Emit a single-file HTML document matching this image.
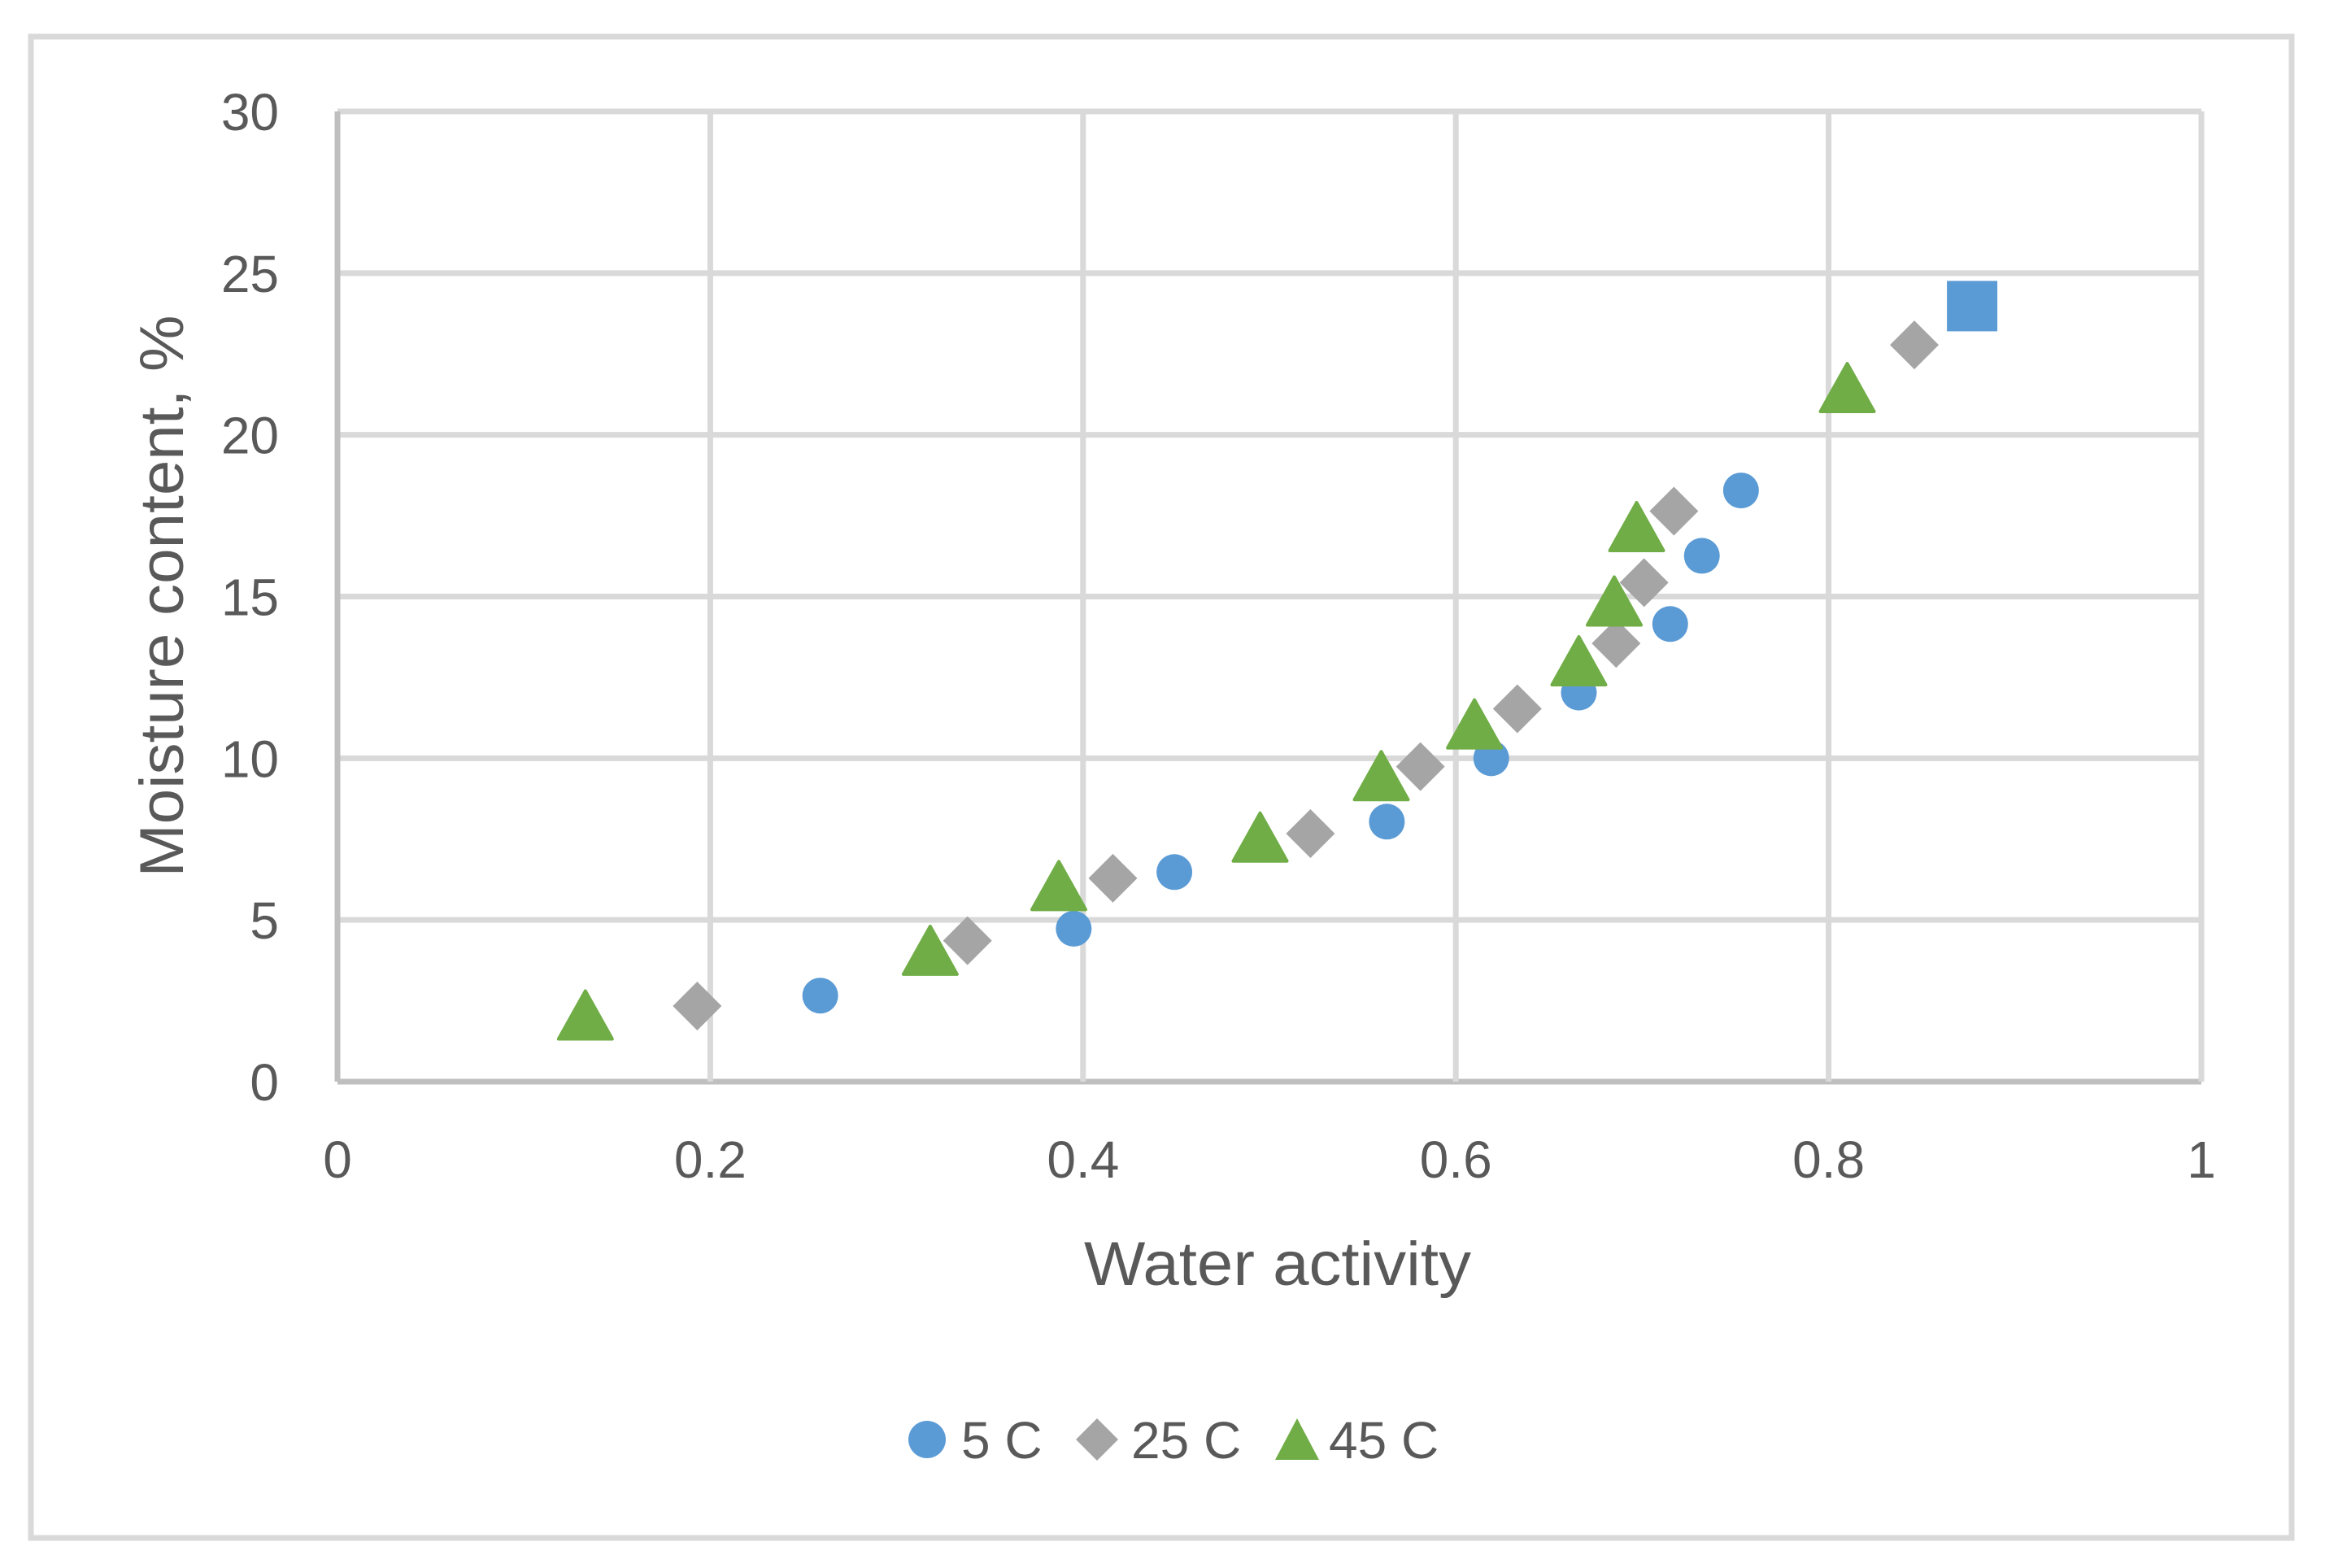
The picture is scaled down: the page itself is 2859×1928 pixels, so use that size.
<!DOCTYPE html>
<html><head><meta charset="utf-8"><style>
html,body{margin:0;padding:0;background:#fff;}
svg{display:block;font-family:"Liberation Sans",sans-serif;}
</style></head><body>
<svg id="chart" width="2859" height="1928" viewBox="0 0 2859 1928">
<rect x="38" y="45" width="2780" height="1846" fill="#fff" stroke="#D9D9D9" stroke-width="7"/>
<g id="grid"></g>
<g id="ticks"></g>
<g id="marks"></g>
<text x="1571" y="1580" font-size="76" fill="#595959" text-anchor="middle" textLength="476" lengthAdjust="spacingAndGlyphs">Water activity</text>
<text transform="translate(225,733) rotate(-90)" font-size="76" fill="#595959" text-anchor="middle" textLength="691" lengthAdjust="spacingAndGlyphs">Moisture content, %</text>
<g>
  <circle cx="1140" cy="1770" r="23" fill="#5B9BD5"/>
  <text x="1182" y="1793" font-size="64" fill="#595959">5 C</text>
  <polygon points="1349,1744 1375,1770 1349,1796 1323,1770" fill="#A5A5A5"/>
  <text x="1391" y="1793" font-size="64" fill="#595959">25 C</text>
  <polygon points="1595,1744 1622,1795 1568,1795" fill="#70AD47"/>
  <text x="1634" y="1793" font-size="64" fill="#595959">45 C</text>
</g>
</svg>
<script>
const xTicks = [0, 0.2, 0.4, 0.6, 0.8, 1];
const xTickLabels = ["0", "0.2", "0.4", "0.6", "0.8", "1"];
const yTicks = [0, 5, 10, 15, 20, 25, 30];
const yTickLabels = ["0", "5", "10", "15", "20", "25", "30"];
const aw5 = [0.259, 0.395, 0.449, 0.563, 0.619, 0.666, 0.715, 0.732, 0.753];
const mc5 = [2.66, 4.73, 6.48, 8.04, 10.0, 12.03, 14.15, 16.26, 18.28];
const aw5sq = [0.877];
const mc5sq = [23.98];
const aw25 = [0.193, 0.338, 0.416, 0.522, 0.581, 0.633, 0.686, 0.701, 0.717, 0.846];
const mc25 = [2.34, 4.36, 6.29, 7.67, 9.74, 11.53, 13.55, 15.43, 17.64, 22.78];
const aw45 = [0.133, 0.318, 0.387, 0.495, 0.560, 0.610, 0.666, 0.685, 0.697, 0.810];
const mc45 = [2.0, 4.0, 6.0, 7.5, 9.4, 11.0, 12.95, 14.8, 17.1, 21.4];

const NS = "http://www.w3.org/2000/svg";
const X0 = 415, X1 = 2707, Y0 = 1330, Y1 = 137;
function xs(v){ return X0 + (v - 0) / (1 - 0) * (X1 - X0); }
function ys(v){ return Y0 - (v - 0) / (30 - 0) * (Y0 - Y1); }
function mk(tag, attrs, parent){ const e = document.createElementNS(NS, tag); for (const k in attrs) e.setAttribute(k, attrs[k]); parent.appendChild(e); return e; }

const grid = document.getElementById('grid');
const ticks = document.getElementById('ticks');
const marks = document.getElementById('marks');

yTicks.forEach((t, i) => {
  const l = mk('line', {x1: X0, x2: X1, y1: ys(t), y2: ys(t), stroke: t === 0 ? '#BFBFBF' : '#D9D9D9', 'stroke-width': 7}, grid);
  
  
  const tx = mk('text', {x: 343, y: ys(t) + 23, 'font-size': 64, fill: '#595959', 'text-anchor': 'end'}, ticks);
  tx.textContent = yTickLabels[i];
  
  
});
xTicks.forEach((t, i) => {
  const l = mk('line', {x1: xs(t), x2: xs(t), y1: Y1, y2: Y0, stroke: t === 0 ? '#BFBFBF' : '#D9D9D9', 'stroke-width': 7}, grid);
  
  
  const tx = mk('text', {x: xs(t), y: 1448, 'font-size': 64, fill: '#595959', 'text-anchor': 'middle'}, ticks);
  tx.textContent = xTickLabels[i];
  
  
});

aw25.forEach((a, i) => {
  const cx = xs(a), cy = ys(mc25[i]);
  const p = mk('polygon', {points: `${cx},${cy-30} ${cx+30},${cy} ${cx},${cy+30} ${cx-30},${cy}`, fill: '#A5A5A5'}, marks);
  
  
});
aw5.forEach((a, i) => {
  const c = mk('circle', {cx: xs(a), cy: ys(mc5[i]), r: 22, fill: '#5B9BD5'}, marks);
  
  
});
aw5sq.forEach((a, i) => {
  const r = mk('rect', {x: xs(a) - 31, y: ys(mc5sq[i]) - 31, width: 62, height: 62, fill: '#5B9BD5'}, marks);
  
  
});
aw45.forEach((a, i) => {
  const cx = xs(a), cy = ys(mc45[i]);
  const p = mk('polygon', {points: `${cx},${cy-32} ${cx+33},${cy+27} ${cx-33},${cy+27}`, fill: '#70AD47', 'stroke': '#70AD47', 'stroke-width': 4, 'stroke-linejoin': 'round'}, marks);
  
  
});
</script>
</body></html>
